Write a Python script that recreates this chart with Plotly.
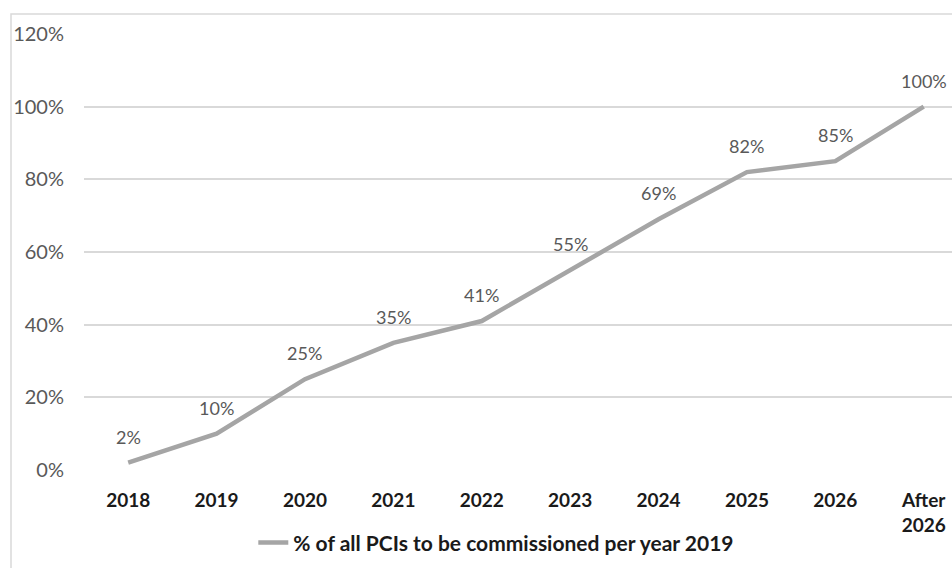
import plotly.graph_objs as go

years = ['2018', '2019', '2020', '2021', '2022', '2023', '2024', '2025', '2026', 'After<br>2026']
share = [2, 10, 25, 35, 41, 55, 69, 82, 85, 100]
share_labels = ['2%', '10%', '25%', '35%', '41%', '55%', '69%', '82%', '85%', '100%']
y_ticks = [0, 20, 40, 60, 80, 100, 120]
y_tick_labels = ['0%', '20%', '40%', '60%', '80%', '100%', '120%']

line_data = go.Scatter(x=years, y=share, mode='lines',
                       line=dict(color='#a5a5a5', width=4.5),
                       name='% of all PCIs to be commissioned per year 2019')

basic_layout = go.Layout(
    width=952, height=568,
    margin=dict(l=84, r=0, t=34, b=98),
    paper_bgcolor='white', plot_bgcolor='white',
    font=dict(family='Lato, Open Sans, sans-serif', size=16, color='#595959'),
    xaxis=dict(type='category', range=[-0.5, 9.32], showgrid=False, zeroline=False,
               showline=False, ticks='', ticklabelstandoff=17,
               tickfont=dict(size=19, color='#1a1a1a', weight='bold')),
    yaxis=dict(range=[0, 120], tickvals=y_ticks, ticktext=y_tick_labels,
               showgrid=True, gridcolor='#d9d9d9', gridwidth=1.5,
               zeroline=False, showline=False, ticks='', ticklabelstandoff=19,
               tickfont=dict(size=20, color='#595959')),
    showlegend=True,
    legend=dict(orientation='h', x=0.475, xanchor='center', y=-0.167, yanchor='middle',
                font=dict(size=21, color='#1a1a1a', weight='bold')),
)

fig = go.Figure(data=line_data, layout=basic_layout)

# data labels above each point
for i, (y, t) in enumerate(zip(share, share_labels)):
    fig.add_annotation(x=i, y=y, text=t, showarrow=False, yshift=26,
                       font=dict(size=18, color='#595959'))

# chart frame (cut off on the right and bottom like the source)
fig.add_shape(type='rect', xref='paper', yref='paper',
              x0=-0.0841, x1=1.05, y0=-0.25, y1=1.046,
              line=dict(color='#d9d9d9', width=1.5), layer='below')

# drop the default page margin so the figure fills the window exactly
fig.write_html('out.html', config={'displayModeBar': False},
               post_script="document.body.style.margin='0';document.body.style.overflow='hidden';")
